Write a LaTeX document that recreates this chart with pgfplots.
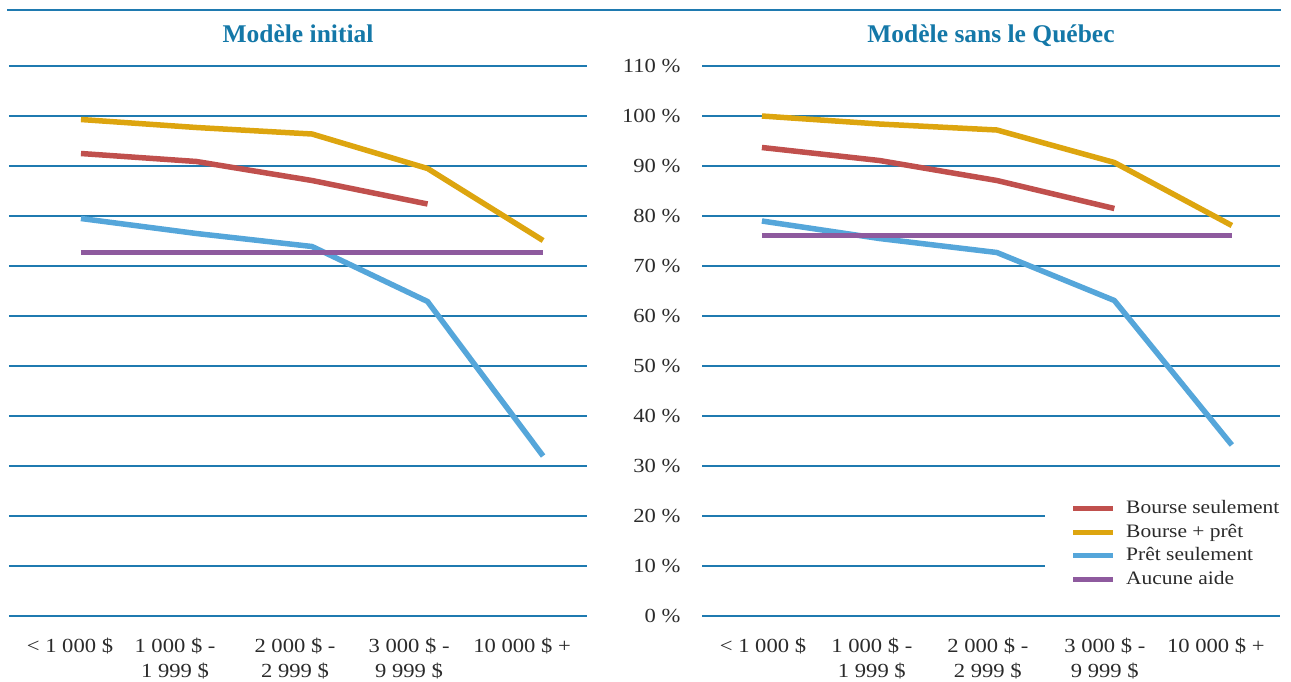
\documentclass[border=0pt]{standalone}
\usepackage{pgfplots}
\pgfplotsset{compat=1.18}
\usepackage{fontspec}
\setmainfont{Liberation Serif}[FakeStretch=1.13]
\newfontfamily\titlefont{Liberation Serif}
\definecolor{gridcol}{HTML}{1F7AB0}
\definecolor{titlecol}{HTML}{1478A8}
\definecolor{txtcol}{HTML}{2B2B2B}
\definecolor{cRed}{HTML}{C0504D}
\definecolor{cGold}{HTML}{DDA50F}
\definecolor{cBlue}{HTML}{55A6DA}
\definecolor{cPurple}{HTML}{8E5A9E}

\pgfplotsset{
  panel/.style={
    scale only axis, width=578pt, height=550pt,
    anchor=south west,
    ymin=0, ymax=110, ytick={0,10,...,110},
    ymajorgrids, grid style={gridcol, line width=1.2pt},
    axis line style={draw=none}, major tick style={draw=none},
    xticklabel style={align=center, anchor=north, yshift=-18pt,
      font=\fontsize{20}{25}\selectfont, text=txtcol},
    yticklabel style={anchor=east, xshift=-18pt,
      font=\fontsize{20}{24}\selectfont, text=txtcol},
    title style={font=\titlefont\fontsize{25.5}{30}\selectfont\bfseries, text=titlecol,
      anchor=base, at={(0.5,1)}, yshift=18pt},
    every axis plot/.append style={line width=5.5pt, line join=round},
    clip=false,
  }
}

\begin{document}
\begin{tikzpicture}
\useasboundingbox (0,0) rectangle (1291pt,-681pt);
\draw[gridcol, line width=1.2pt] (7pt,-10pt) -- (1281pt,-10pt);

% panneau gauche
\begin{axis}[panel, at={(9pt,-616pt)},
  title={Modèle initial},
  xmin=-0.623, xmax=4.38,
  xtick={-0.095,0.814,1.853,2.84,3.818},
  xticklabels={< 1 000 \$, 1 000 \$ -\\1 999 \$, 2 000 \$ -\\2 999 \$, 3 000 \$ -\\9 999 \$, 10 000 \$ +},
  yticklabels={}]
  \addplot[cRed] coordinates {(0,92.5) (1,90.9) (2,87.1) (3,82.4)};
  \addplot[cGold] coordinates {(0,99.3) (1,97.7) (2,96.4) (3,89.5) (4,75.1)};
  \addplot[cBlue] coordinates {(0,79.5) (1,76.5) (2,73.9) (3,62.9) (4,32.0)};
  \addplot[cPurple] coordinates {(0,72.7) (1,72.7) (2,72.7) (3,72.7) (4,72.7)};
\end{axis}

% panneau droit
\begin{axis}[panel, at={(702pt,-616pt)},
  title={Modèle sans le Québec},
  xmin=-0.51, xmax=4.41,
  xtick={0.009,0.936,1.923,2.919,3.864},
  xticklabels={< 1 000 \$, 1 000 \$ -\\1 999 \$, 2 000 \$ -\\2 999 \$, 3 000 \$ -\\9 999 \$, 10 000 \$ +},
  yticklabels={0 \%,10 \%,20 \%,30 \%,40 \%,50 \%,60 \%,70 \%,80 \%,90 \%,100 \%,110 \%},
  legend style={at={(0.593,0.226)}, anchor=north west, draw=none, fill=white,
    font=\fontsize{19}{23}\selectfont, text=txtcol, inner xsep=26pt, inner ysep=6pt,
    row sep=1.5pt, cells={anchor=west},
    nodes={inner sep=2pt, text height=14pt, text depth=4pt}},
  legend image code/.code={\draw[#1, line width=5pt] (0pt,0pt) -- (40pt,0pt); \path (48pt,0pt);}]
  \addplot[cRed] coordinates {(0,93.7) (1,91.1) (2,87.1) (3,81.5)};
  \addlegendentry{Bourse seulement}
  \addplot[cGold] coordinates {(0,100) (1,98.4) (2,97.2) (3,90.7) (4,78.1)};
  \addlegendentry{Bourse + prêt}
  \addplot[cBlue] coordinates {(0,79.0) (1,75.5) (2,72.7) (3,63.1) (4,34.2)};
  \addlegendentry{Prêt seulement}
  \addplot[cPurple] coordinates {(0,76.1) (1,76.1) (2,76.1) (3,76.1) (4,76.1)};
  \addlegendentry{Aucune aide}
\end{axis}
\end{tikzpicture}
\end{document}
